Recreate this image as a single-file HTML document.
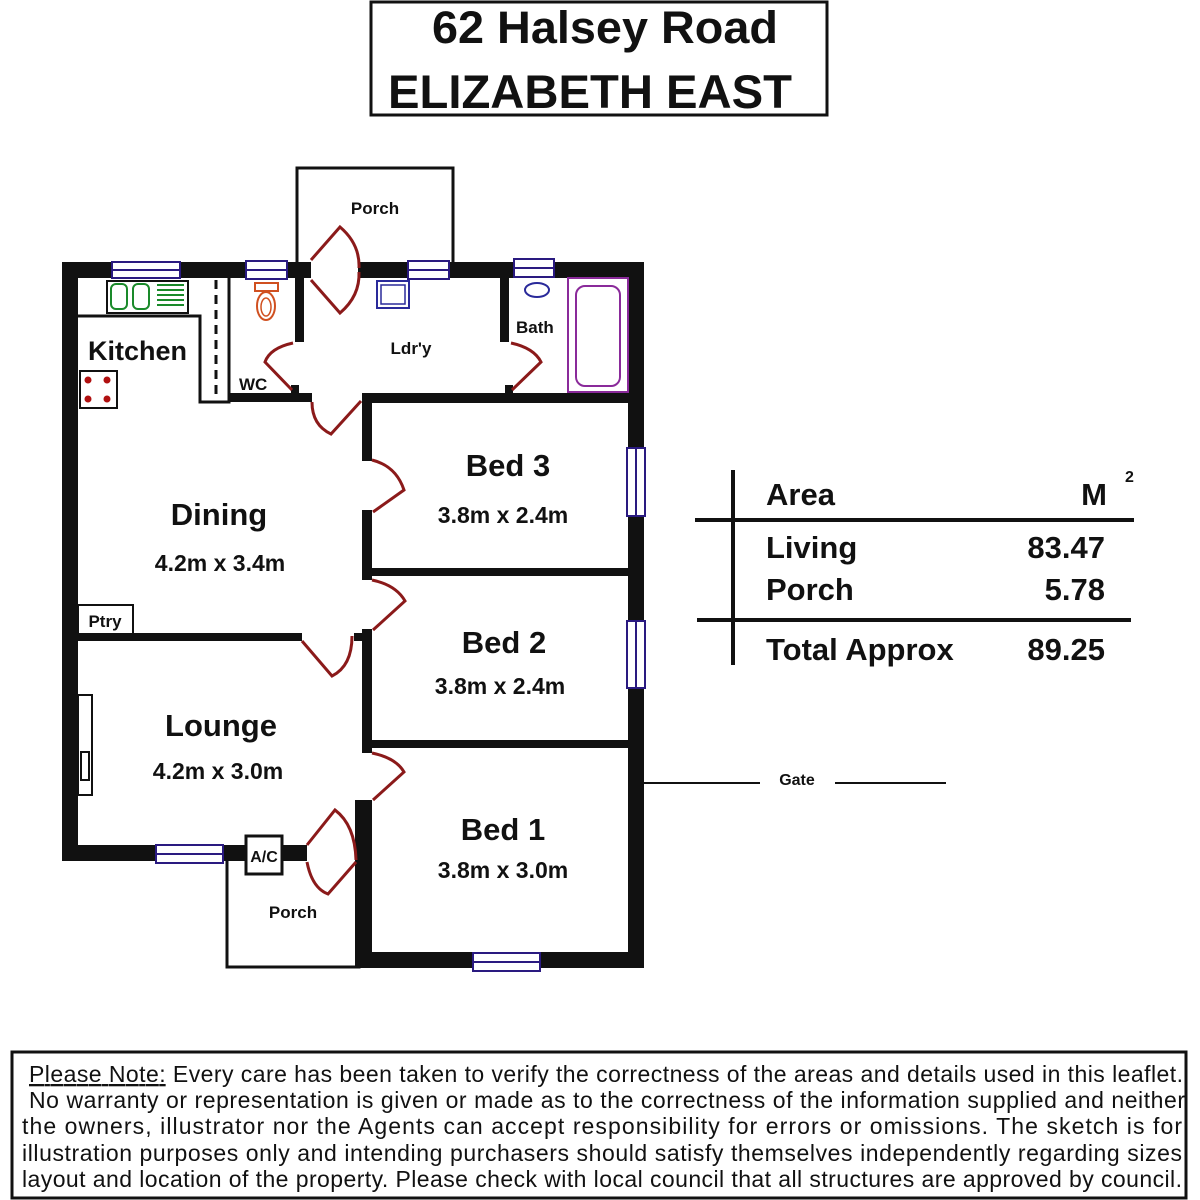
<!DOCTYPE html>
<html><head><meta charset="utf-8"><style>
html,body{margin:0;padding:0;background:#fff;width:1200px;height:1200px;overflow:hidden}
svg{display:block}
text{font-family:"Liberation Sans",Arial,sans-serif;fill:#111}
.b{font-weight:bold}
</style></head><body>
<svg width="1200" height="1200" viewBox="0 0 1200 1200" xmlns="http://www.w3.org/2000/svg">
<!-- title -->
<rect x="371" y="2" width="456" height="113" fill="none" stroke="#111" stroke-width="3"/>
<text x="605" y="43" class="b" font-size="45" text-anchor="middle" textLength="346" lengthAdjust="spacingAndGlyphs">62 Halsey Road</text>
<text x="388" y="108" class="b" font-size="47" textLength="404" lengthAdjust="spacingAndGlyphs">ELIZABETH EAST</text>

<!-- porches thin outlines -->
<polyline points="297,268 297,168 453,168 453,268" fill="none" stroke="#111" stroke-width="3"/>
<polyline points="227,858 227,967 359,967 359,858" fill="none" stroke="#111" stroke-width="3"/>

<g fill="#111">
<!-- outer walls -->
<rect x="62" y="262" width="249" height="16"/>
<rect x="358" y="262" width="286" height="16"/>
<rect x="62" y="262" width="16" height="599"/>
<rect x="62" y="845" width="245" height="16"/>
<rect x="628" y="262" width="16" height="706"/>
<rect x="357" y="952" width="287" height="16"/>
<rect x="355" y="800" width="17" height="168"/>
<!-- interior -->
<rect x="295" y="278" width="9" height="64"/>
<rect x="500" y="278" width="9" height="64"/>
<rect x="229" y="393" width="83" height="9"/>
<rect x="362" y="393" width="266" height="10"/>
<rect x="362" y="393" width="10" height="68"/>
<rect x="362" y="510" width="10" height="70"/>
<rect x="362" y="629" width="10" height="124"/>
<rect x="372" y="568" width="256" height="8"/>
<rect x="372" y="740" width="256" height="8"/>
<rect x="78" y="633" width="224" height="8"/>
<rect x="354" y="633" width="10" height="8"/>
<rect x="291" y="385" width="8" height="9"/>
<rect x="505" y="385" width="8" height="9"/>
</g>

<!-- kitchen -->
<polyline points="78,316 200,316 200,402 229,402 229,278" fill="none" stroke="#111" stroke-width="3"/>
<line x1="216" y1="280" x2="216" y2="400" stroke="#111" stroke-width="3" stroke-dasharray="9,6"/>
<rect x="107" y="281" width="81" height="32" fill="#fff" stroke="#111" stroke-width="2"/>
<g fill="none" stroke="#1a8a2a" stroke-width="2">
<rect x="111" y="284" width="16" height="25" rx="5"/>
<rect x="133" y="284" width="16" height="25" rx="5"/>
<line x1="157" y1="285" x2="184" y2="285"/><line x1="157" y1="290" x2="184" y2="290"/>
<line x1="157" y1="295" x2="184" y2="295"/><line x1="157" y1="300" x2="184" y2="300"/>
<line x1="157" y1="305" x2="184" y2="305"/>
</g>
<rect x="80" y="371" width="37" height="37" fill="#fff" stroke="#111" stroke-width="2"/>
<g fill="#b01010"><circle cx="88" cy="380" r="3.5"/><circle cx="107" cy="380" r="3.5"/><circle cx="88" cy="399" r="3.5"/><circle cx="107" cy="399" r="3.5"/></g>

<!-- WC toilet -->
<rect x="255" y="283" width="23" height="8" fill="none" stroke="#d05020" stroke-width="2"/>
<ellipse cx="266" cy="306" rx="9" ry="14" fill="none" stroke="#d05020" stroke-width="2"/>
<ellipse cx="266" cy="307" rx="5" ry="9" fill="none" stroke="#d05020" stroke-width="1.5"/>
<!-- laundry tub -->
<rect x="377" y="281" width="32" height="27" fill="none" stroke="#2a2a9a" stroke-width="2"/>
<rect x="381" y="285" width="24" height="19" fill="none" stroke="#2a2a9a" stroke-width="1.5"/>
<!-- bath -->
<ellipse cx="537" cy="290" rx="12" ry="7" fill="none" stroke="#2a2a9a" stroke-width="2"/>
<rect x="568" y="278" width="60" height="114" fill="none" stroke="#8a2a9a" stroke-width="2"/>
<rect x="576" y="286" width="44" height="100" rx="9" fill="none" stroke="#8a2a9a" stroke-width="2"/>
<!-- fireplace -->
<rect x="78" y="695" width="14" height="100" fill="#fff" stroke="#111" stroke-width="2"/>
<rect x="81" y="752" width="8" height="28" fill="none" stroke="#111" stroke-width="2"/>
<!-- pantry -->
<rect x="78" y="605" width="55" height="29" fill="#fff" stroke="#111" stroke-width="2"/>
<!-- A/C -->
<rect x="246" y="836" width="36" height="38" fill="#fff" stroke="#111" stroke-width="3"/>

<!-- windows -->
<g fill="#fff" stroke="#2a1a80" stroke-width="2">
<rect x="112" y="262" width="68" height="16"/><line x1="112" y1="270" x2="180" y2="270"/>
<rect x="246" y="261" width="41" height="18"/><line x1="246" y1="270" x2="287" y2="270"/>
<rect x="408" y="261" width="41" height="18"/><line x1="408" y1="270" x2="449" y2="270"/>
<rect x="514" y="259" width="40" height="18"/><line x1="514" y1="268" x2="554" y2="268"/>
<rect x="627" y="448" width="18" height="68"/><line x1="636" y1="448" x2="636" y2="516"/>
<rect x="627" y="621" width="18" height="67"/><line x1="636" y1="621" x2="636" y2="688"/>
<rect x="473" y="953" width="67" height="18"/><line x1="473" y1="962" x2="540" y2="962"/>
<rect x="156" y="845" width="67" height="18"/><line x1="156" y1="854" x2="223" y2="854"/>
</g>

<!-- doors -->
<g fill="none" stroke="#8b1a1a" stroke-width="3">
<path d="M311,260 L340,227 Q360,244 359,268"/>
<path d="M311,280 L340,313 Q360,296 359,272"/>
<path d="M293,343 Q270,348 265,362 L292,390"/>
<path d="M511,343 Q534,348 541,362 L512,390"/>
<path d="M312,402 Q312,425 331,434 L361,401"/>
<path d="M372,460 Q396,466 404,490 L373,512"/>
<path d="M372,580 Q396,585 405,601 L373,630"/>
<path d="M302,641 L332,676 Q352,666 352,636"/>
<path d="M372,753 Q396,758 404,772 L373,800"/>
<path d="M307,845 L335,810 Q355,825 356,860"/>
<path d="M307,862 Q312,888 328,894 L356,862"/>
</g>

<!-- gate -->
<line x1="644" y1="783" x2="760" y2="783" stroke="#111" stroke-width="2"/>
<line x1="835" y1="783" x2="946" y2="783" stroke="#111" stroke-width="2"/>
<text x="797" y="785" class="b" font-size="16" text-anchor="middle">Gate</text>

<!-- room labels -->
<text x="375" y="214" class="b" font-size="17" text-anchor="middle">Porch</text>
<text x="88" y="360" class="b" font-size="27">Kitchen</text>
<text x="239" y="390" class="b" font-size="17">WC</text>
<text x="411" y="354" class="b" font-size="17" text-anchor="middle">Ldr'y</text>
<text x="516" y="333" class="b" font-size="17">Bath</text>
<text x="219" y="525" class="b" font-size="31" text-anchor="middle">Dining</text>
<text x="220" y="571" class="b" font-size="23" text-anchor="middle">4.2m x 3.4m</text>
<text x="508" y="476" class="b" font-size="31" text-anchor="middle">Bed 3</text>
<text x="503" y="523" class="b" font-size="23" text-anchor="middle">3.8m x 2.4m</text>
<text x="504" y="653" class="b" font-size="31" text-anchor="middle">Bed 2</text>
<text x="500" y="694" class="b" font-size="23" text-anchor="middle">3.8m x 2.4m</text>
<text x="105" y="627" class="b" font-size="17" text-anchor="middle">Ptry</text>
<text x="221" y="736" class="b" font-size="31" text-anchor="middle">Lounge</text>
<text x="218" y="779" class="b" font-size="23" text-anchor="middle">4.2m x 3.0m</text>
<text x="503" y="840" class="b" font-size="31" text-anchor="middle">Bed 1</text>
<text x="503" y="878" class="b" font-size="23" text-anchor="middle">3.8m x 3.0m</text>
<text x="264" y="862" class="b" font-size="16" text-anchor="middle">A/C</text>
<text x="293" y="918" class="b" font-size="17" text-anchor="middle">Porch</text>

<!-- area table -->
<line x1="733" y1="470" x2="733" y2="665" stroke="#111" stroke-width="4"/>
<line x1="695" y1="520" x2="1134" y2="520" stroke="#111" stroke-width="4"/>
<line x1="697" y1="620" x2="1131" y2="620" stroke="#111" stroke-width="4"/>
<text x="766" y="505" class="b" font-size="31">Area</text>
<text x="1107" y="505" class="b" font-size="31" text-anchor="end">M</text>
<text x="1125" y="482" class="b" font-size="16">2</text>
<text x="766" y="558" class="b" font-size="31">Living</text>
<text x="1105" y="558" class="b" font-size="31" text-anchor="end">83.47</text>
<text x="766" y="600" class="b" font-size="31">Porch</text>
<text x="1105" y="600" class="b" font-size="31" text-anchor="end">5.78</text>
<text x="766" y="660" class="b" font-size="31">Total Approx</text>
<text x="1105" y="660" class="b" font-size="31" text-anchor="end">89.25</text>

<!-- note -->
<rect x="12" y="1052" width="1174" height="146" fill="none" stroke="#111" stroke-width="3"/>
<g font-size="23" style="white-space:pre">
<text x="29" y="1082" textLength="1154" lengthAdjust="spacing"><tspan text-decoration="underline">Please Note:</tspan>  Every care has been taken to verify the correctness of the areas and details used in this  leaflet.</text>
<text x="29" y="1108" textLength="1156" lengthAdjust="spacing">No warranty or  representation is  given or made as to the correctness of the information supplied and   neither</text>
<text x="22" y="1134" textLength="1160" lengthAdjust="spacing">the  owners,  illustrator nor the  Agents can  accept  responsibility  for  errors or  omissions.  The  sketch is  for</text>
<text x="22" y="1161" textLength="1160" lengthAdjust="spacing">illustration  purposes  only and  intending purchasers should satisfy themselves independently regarding  sizes</text>
<text x="22" y="1187" textLength="1160" lengthAdjust="spacing">layout  and  location of the property. Please check  with local council that all structures are approved by council.</text>
</g>
</svg>
</body></html>
